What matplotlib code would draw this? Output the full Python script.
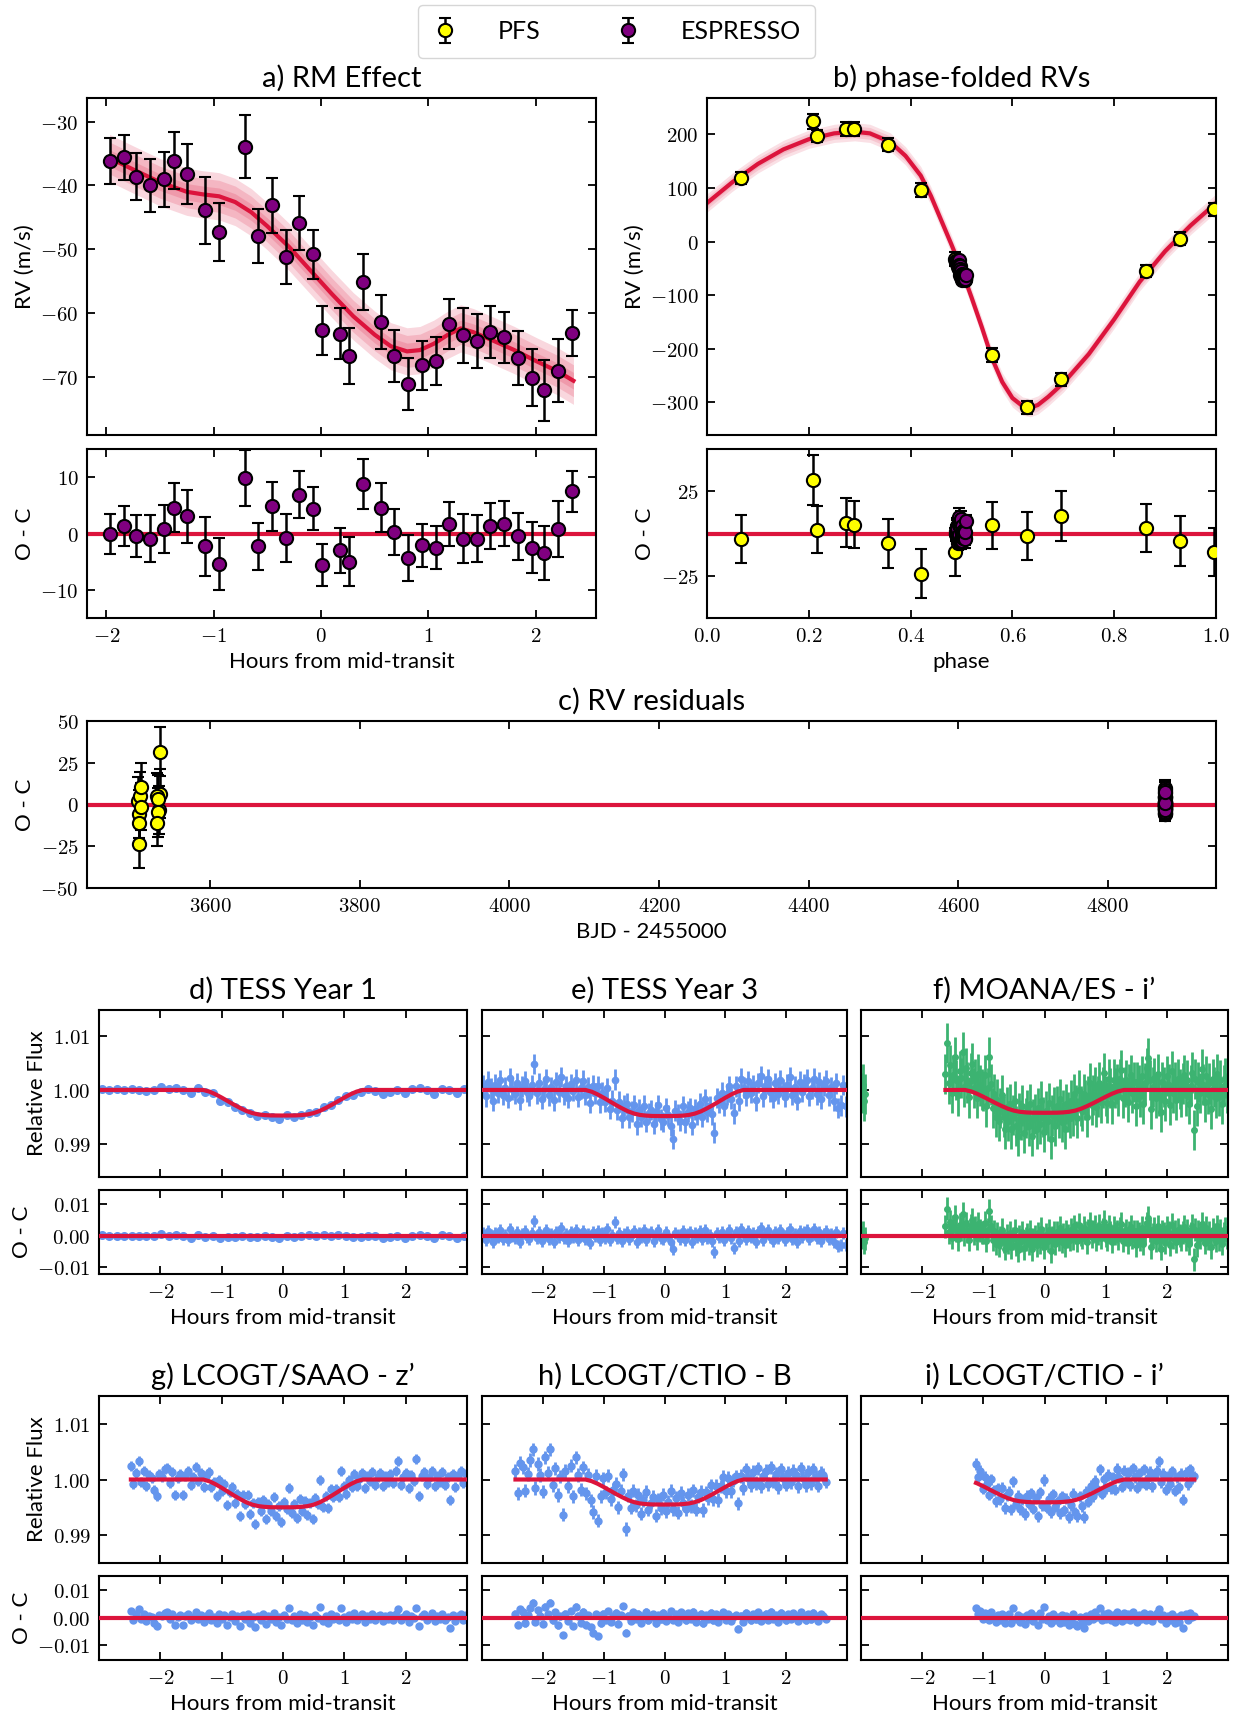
import numpy as np
import matplotlib
matplotlib.use('Agg')
import matplotlib.pyplot as plt
from matplotlib.ticker import FuncFormatter

plt.rcParams['font.family'] = ['Lato', 'DejaVu Sans']
plt.rcParams['mathtext.fontset'] = 'cm'

# ---------------- ESPRESSO RM sequence (hours from mid-transit)
rm_hours = [-1.97, -1.84, -1.72, -1.59, -1.46, -1.37, -1.25, -1.08, -0.95, -0.71, -0.59, -0.46,
            -0.33, -0.21, -0.08, 0.01, 0.18, 0.26, 0.39, 0.56, 0.68, 0.81, 0.94, 1.07, 1.19,
            1.32, 1.45, 1.57, 1.70, 1.83, 1.96, 2.08, 2.21, 2.34]
rm_rv = [-36.1, -35.6, -38.6, -40.0, -39.0, -36.1, -38.2, -43.9, -47.3, -33.9, -47.9, -43.1,
         -51.2, -45.9, -50.8, -62.7, -63.2, -66.7, -55.1, -61.4, -66.7, -71.1, -68.2, -67.5,
         -61.7, -63.5, -64.4, -63.0, -63.8, -67.0, -70.1, -72.1, -69.0, -63.1]
rm_err = [3.6, 3.5, 3.7, 4.1, 4.3, 4.4, 4.7, 5.3, 4.6, 5.0, 4.2, 4.3, 4.2, 4.2, 3.8, 3.8, 4.0,
          4.4, 4.4, 4.3, 4.1, 4.1, 3.8, 3.8, 3.9, 4.3, 4.2, 4.1, 4.0, 4.2, 4.5, 4.8, 4.9, 3.6]
rm_res = [-0.1, 1.3, -0.5, -0.9, 0.8, 4.6, 3.1, -2.3, -5.4, 9.9, -2.3, 4.8, -0.8, 6.9, 4.4,
          -5.6, -3.0, -5.0, 8.8, 4.6, 0.2, -4.3, -2.1, -2.5, 1.7, -0.9, -0.9, 1.4, 1.7, -0.5,
          -2.5, -3.5, 0.8, 7.5]
# RM model curve
rm_mod_t = [-1.97, -1.75, -1.5, -1.25, -1.1, -0.95, -0.8, -0.65, -0.5, -0.3, -0.1, 0.1, 0.3,
            0.5, 0.65, 0.8, 0.92, 1.05, 1.18, 1.30, 1.42, 1.6, 1.8, 2.0, 2.2, 2.35]
rm_mod_v = [-35.7, -37.5, -39.5, -41.0, -41.4, -41.7, -42.6, -44.2, -46.4, -49.6, -53.3, -57.0,
            -60.5, -63.4, -65.2, -66.0, -65.8, -64.8, -63.4, -62.4, -63.0, -64.3, -65.8, -67.5,
            -69.1, -70.6]
rm_band = [1.3, 2.5, 3.7]

# ---------------- PFS radial velocities
pfs_phase = [0.067, 0.208, 0.217, 0.273, 0.288, 0.356, 0.421, 0.488, 0.559, 0.628, 0.696,
             0.863, 0.929, 0.996]
pfs_rv = [119, 225, 197, 211, 210, 181, 97, -32, -211, -309, -257, -55, 5, 60]
pfs_err = [11.5, 14, 12, 13, 13, 12, 13, 13, 13, 12, 12, 12, 12, 12]
pfs_res = [-3.3, 31.7, 2.2, 6.5, 5.3, -5.9, -23.8, -11.0, 4.9, -1.4, 10.4, 3.3, -4.7, -11.0]
pfs_res_err = [14.3, 14.8, 14.0, 14.5, 14.0, 14.3, 14.4, 14.0, 14.0, 14.0, 14.6, 14.2, 14.8, 14.0]
pfs_bjd = [3531, 3532, 3503, 3532, 3506, 3505, 3505, 3505, 3529, 3507, 3507, 3530, 3530, 3529]
esp_bjd0 = 4876.6
esp_phase0 = 0.4975
period_days = 9.3
# Keplerian model
kep_phase = [0.0, 0.05, 0.1, 0.15, 0.2, 0.25, 0.29, 0.32, 0.36, 0.39, 0.42, 0.44, 0.46, 0.48,
             0.50, 0.52, 0.54, 0.56, 0.58, 0.60, 0.62, 0.635, 0.65, 0.67, 0.70, 0.75, 0.80,
             0.85, 0.90, 0.95, 1.0]
kep_rv = [72, 111, 145, 172, 191, 202, 205, 202, 186, 160, 123, 85, 40, -5, -52, -105, -160,
          -218, -262, -292, -307, -310, -305, -290, -264, -210, -145, -75, -18, 30, 72]
kep_band = [6, 11, 17]

# ---------------- transit model profile (normalised depth vs |hours|)
tr_knot_t = [0.0, 0.2, 0.3, 0.4, 0.5, 0.6, 0.7, 0.8, 0.9, 1.0, 1.1, 1.2, 1.3, 3.0]
tr_knot_s = [1.0, 0.996, 0.983, 0.957, 0.904, 0.819, 0.702, 0.574, 0.436, 0.298, 0.170,
             0.064, 0.0, 0.0]

# ---------------- photometry: time grids and residuals (units of 1e-4)
d_t = np.linspace(-2.95, 2.95, 50)
d_res = [2, 0, 1, 0, 1, 0, -1, 0, 5, 1, 4, 0, -6, 3, -2, 0, -8, -2, -3, -1, -2, -4, 0, -3, -6,
         1, -2, 0, 2, 1, 3, 0, 2, 1, -3, -2, 1, -1, -8, -4, 0, -6, 1, 3, 0, -7, 2, 0, -5, 1]

e_t = np.linspace(-2.98, 2.98, 150)
e_res = [8, -12, 15, 3, -20, 10, -5, 18, -9, 4, -14, 22, 1, -7, 12, -18, 6, 16, -3, -11,
         9, 48, -6, 13, -16, 2, 20, -10, 5, -19, 14, -4, 24, -8, 7, -15, 11, -2, 19, -13,
         3, 17, -9, 6, -21, 12, 0, 15, -12, 8, -6, 21, -14, 4, 45, -8, 10, -17, 7, 13,
         -10, 2, 16, -19, 9, -3, 18, -12, 5, 11, -15, 7, 20, -6, -11, 14, 1, -18, -42, 10,
         3, -9, 17, -13, 6, 12, -20, 8, -4, 15, -11, 19, -7, 2, -16, -52, 9, -2, 13, -14,
         5, 18, -8, -37, 11, -17, 22, 4, -10, 16, -5, 9, -19, 13, 25, -12, 7, 20, -3, -15,
         12, -7, 18, 2, -13, 10, 23, -9, 6, -18, 15, -4, 11, 19, -11, 3, 21, -8, 14, -16,
         7, 17, -10, 5, -20, 12, -33, -28, 9, -30]

f_t_early = [-2.99, -2.97, -2.95, -2.93]
f_res_early = [-5, 10, -20, -8]
f_t = np.linspace(-1.62, 2.98, 180)
f_res = [30, 87, 12, 45, -5, 28, 60, 18, -10, 35, 22, 70, 5, 40, 15, -12, 33, 52, 8, 25,
         -8, 38, 18, 12, 10, 42, -15, 20, 79, 30, -12, 15, -25, 8, -30, -5, 20, -18, -40, 2,
         -22, 10, -35, -8, 18, -28, -45, -3, -15, 12, -38, -10, 5, -25, 15, -42, -12, -2, -30, 8,
         -20, 22, -8, -35, 3, -15, 18, -48, -5, 10, -25, 12, -10, 25, -18, 5, -30, 15, 0, -12,
         20, -8, 30, 10, -15, 35, 5, -5, 25, 12, -20, 18, 40, -2, 15, 28, -10, 8, 32, -6,
         20, 45, 2, -12, 30, 12, -18, 25, 8, 15, -8, 22, 38, -15, 5, 18, -22, 10, 28, -5,
         15, -30, 15, 8, -12, 25, -25, 12, 40, 58, 18, -35, 5, 22, -15, 30, -10, -40, 15, 6,
         -20, 25, 10, -28, 35, -5, 15, -18, 20, 2, -12, 12, 28, -10, 18, -25, 8, 32, -74, 20,
         -30, 15, -5, 38, 10, -22, 25, -8, 12, -35, 20, 5, -15, 30, -10, 18, -25, 8, 22, -5]

g_t = np.linspace(-2.48, 2.98, 130)
g_res = [25, -8, 12, 33, -5, 15, -12, 8, 3, -18, -30, 10, 5, 18, 20, -6, 14, -28, 2, 9,
         -28, 6, 15, -10, 4, 22, -3, 11, -14, 7, 16, -8, 3, -20, 12, -5, 9, -25, 1, 14,
         -12, 6, -30, 10, -4, 15, -18, 3, -34, 8, -9, 12, -22, 5, -6, 18, -15, 2, -26, 10,
         -3, 34, -10, 6, -20, 14, -7, 9, -16, 4, -25, 11, -2, 39, -12, 5, -18, 13, -4, 8,
         -10, 34, 3, -14, 9, -6, 16, -8, 2, 12, -15, 7, -3, 14, -9, 5, 11, -12, 6, -4,
         10, -7, 15, 33, -10, 4, 12, -16, 8, -2, 36, -30, 6, 13, -8, 3, 16, -11, 7, -5,
         14, -9, 4, -36, 10, -13, 6, 15, -7, 9]

h_t = np.linspace(-2.45, 2.65, 125)
h_res = [15, -25, 30, 22, -20, 10, 35, 54, -15, 28, 8, -22, 40, 12, 54, -10, 20, -28, 5, -63,
         15, -12, 25, -30, 40, 8, -18, 22, -25, 10, -35, -54, 12, -66, -20, 15, -8, 25, -15, 5,
         18, -22, 10, 42, -54, 8, -12, 20, -5, 15, -18, 6, 22, -10, 3, 14, -20, 9, -6, 18,
         -12, 5, 25, -8, 12, -15, 20, 2, -10, 16, -5, 22, -14, 8, 15, -20, 10, -3, 18, -9,
         12, -16, 6, 20, -8, 14, -12, 4, 10, -40, 8, -15, 18, 3, -10, 14, -6, 20, -12, 7,
         15, -8, 22, -4, 10, -14, 18, 2, -9, 12, -5, 16, 8, -12, 20, 3, -10, 14, -6, 18,
         5, -11, 12, 8, -4]

i_t = np.linspace(-1.12, 2.45, 100)
i_res = [34, 12, 25, -5, 18, 8, -10, 20, 2, -15, 10, -8, 15, -20, 5, 12, -18, 34, -6, 9,
         -14, 4, -22, 11, -3, 16, -12, 7, -25, 18, -5, 40, -10, 6, -18, 14, -8, 2, -20, 10,
         -15, 5, -28, -8, 12, -22, -30, 4, -15, -36, 8, -12, 15, -6, 20, 3, 36, -10, 14, -4,
         18, -8, 10, -14, 22, 5, -12, 16, -3, 12, -10, 20, 4, -15, 11, -6, 18, -9, 2, 14,
         -12, 8, 16, 33, -5, 10, -18, 6, -8, 15, -20, 4, -14, 10, -36, 12, -8, 18, 2, 6]

# ---------------- styling
RED = '#dc143c'
BLUE = '#6495ed'
GREEN = '#3cb371'
TITLE = 21
LABEL = 16
W, H = 1233, 1712
fig = plt.figure(figsize=(W / 100, H / 100), dpi=100)


def box(l, t, r, b):
    return fig.add_axes([l / W, 1 - b / H, (r - l) / W, (b - t) / H])


def fmt(dec):
    return FuncFormatter(lambda v, p: '$%.*f$' % (dec, v))


def style(ax):
    ax.tick_params(direction='in', top=True, right=True, length=6, width=1.3, labelsize=15, pad=6)
    for s in ax.spines.values():
        s.set_linewidth(1.5)


rv_kw = dict(fmt='o', ms=9.5, mec='black', mew=1.5, ecolor='black', elinewidth=1.8,
             capsize=4, capthick=1.8, zorder=3)

# ---------------- a) RM effect
axa = box(87, 98, 596, 435)
axar = box(87, 449, 596, 618)
mt = np.array(rm_mod_t)
mv = np.array(rm_mod_v)
for w in rm_band[::-1]:
    axa.fill_between(mt, mv - w, mv + w, color=RED, alpha=0.17, lw=0, zorder=1)
axa.plot(mt, mv, color=RED, lw=3, zorder=2)
axa.errorbar(rm_hours, rm_rv, yerr=rm_err, mfc='purple', **rv_kw)
axar.axhline(0, color=RED, lw=3, zorder=2)
axar.errorbar(rm_hours, rm_res, yerr=rm_err, mfc='purple', **rv_kw)
for ax in (axa, axar):
    ax.set_xlim(-2.18, 2.56)
    ax.set_xticks([-2, -1, 0, 1, 2])
    style(ax)
axa.set_ylim(-79.1, -26.3)
axa.set_yticks([-70, -60, -50, -40, -30])
axa.yaxis.set_major_formatter(fmt(0))
axa.tick_params(labelbottom=False)
axar.set_ylim(-15, 15)
axar.set_yticks([-10, 0, 10])
axar.yaxis.set_major_formatter(fmt(0))
axar.xaxis.set_major_formatter(fmt(0))
axa.set_title('a) RM Effect', fontsize=TITLE, pad=8)
axa.set_ylabel('RV (m/s)', fontsize=LABEL)
axar.set_ylabel('O - C', fontsize=LABEL)
axar.set_xlabel('Hours from mid-transit', fontsize=LABEL)

# ---------------- b) phase-folded RVs
esp_phase = esp_phase0 + np.array(rm_hours) / (24 * period_days)
axb = box(707, 98, 1216, 435)
axbr = box(707, 449, 1216, 618)
kp = np.array(kep_phase)
kv = np.array(kep_rv)
for w in kep_band[::-1]:
    axb.fill_between(kp, kv - w, kv + w, color=RED, alpha=0.13, lw=0, zorder=1)
axb.plot(kp, kv, color=RED, lw=3, zorder=2)
h_pfs = axb.errorbar(pfs_phase, pfs_rv, yerr=pfs_err, mfc='yellow', **rv_kw)
h_esp = axb.errorbar(esp_phase, rm_rv, yerr=rm_err, mfc='purple', **rv_kw)
axbr.axhline(0, color=RED, lw=3, zorder=2)
axbr.errorbar(pfs_phase, pfs_res, yerr=pfs_res_err, mfc='yellow', **rv_kw)
axbr.errorbar(esp_phase, rm_res, yerr=rm_err, mfc='purple', **rv_kw)
for ax in (axb, axbr):
    ax.set_xlim(0, 1)
    ax.set_xticks([0, 0.2, 0.4, 0.6, 0.8, 1.0])
    style(ax)
axb.set_ylim(-361, 268)
axb.set_yticks([-300, -200, -100, 0, 100, 200])
axb.yaxis.set_major_formatter(fmt(0))
axb.tick_params(labelbottom=False)
axbr.set_ylim(-50, 50)
axbr.set_yticks([-25, 25])
axbr.yaxis.set_major_formatter(fmt(0))
axbr.xaxis.set_major_formatter(fmt(1))
axb.set_title('b) phase-folded RVs', fontsize=TITLE, pad=8)
axb.set_ylabel('RV (m/s)', fontsize=LABEL)
axbr.set_ylabel('O - C', fontsize=LABEL)
axbr.set_xlabel('phase', fontsize=LABEL)

# ---------------- c) RV residuals vs time
axc = box(87, 721, 1216, 888)
axc.axhline(0, color=RED, lw=3, zorder=2)
axc.errorbar(pfs_bjd, pfs_res, yerr=pfs_res_err, mfc='yellow', **rv_kw)
axc.errorbar(esp_bjd0 + np.array(rm_hours) / 24, rm_res, yerr=rm_err, mfc='purple', **rv_kw)
axc.set_xlim(3435, 4945)
axc.set_xticks(np.arange(3600, 4801, 200))
axc.set_ylim(-50, 50)
axc.set_yticks([-50, -25, 0, 25, 50])
axc.xaxis.set_major_formatter(fmt(0))
axc.yaxis.set_major_formatter(fmt(0))
style(axc)
axc.set_title('c) RV residuals', fontsize=TITLE, pad=8)
axc.set_ylabel('O - C', fontsize=LABEL)
axc.set_xlabel('BJD - 2455000', fontsize=LABEL)

# ---------------- light curves
knot_full = np.concatenate((-np.array(tr_knot_t[::-1]), np.array(tr_knot_t[1:])))


def transit(t, depth):
    return 1 - depth * np.interp(np.abs(t), tr_knot_t, tr_knot_s)


def lc_panel(l, r, top, title, t, res, err, depth, color, ms, first, ylim, rlim):
    axt = box(l, top, r, top + 167)
    axr = box(l, top + 180, r, top + 264)
    t = np.asarray(t, dtype=float)
    res = np.asarray(res, dtype=float) * 1e-4
    flux = transit(t, depth) + res
    axt.errorbar(t, flux, yerr=err, fmt='o', color=color, ms=ms, elinewidth=2, capsize=0, zorder=2)
    axr.errorbar(t, res, yerr=err, fmt='o', color=color, ms=ms, elinewidth=2, capsize=0, zorder=2)
    inside = (knot_full > t.min()) & (knot_full < t.max())
    mx = np.concatenate(([t.min()], knot_full[inside], [t.max()]))
    axt.plot(mx, transit(mx, depth), color=RED, lw=3, zorder=3)
    axr.axhline(0, color=RED, lw=3, zorder=3)
    for ax in (axt, axr):
        ax.set_xlim(-3, 3)
        ax.set_xticks([-2, -1, 0, 1, 2])
        style(ax)
    axt.set_ylim(*ylim)
    axt.set_yticks([0.99, 1.00, 1.01])
    axr.set_ylim(*rlim)
    axr.set_yticks([-0.01, 0.0, 0.01])
    axt.tick_params(labelbottom=False)
    axr.xaxis.set_major_formatter(fmt(0))
    if first:
        axt.yaxis.set_major_formatter(fmt(2))
        axr.yaxis.set_major_formatter(fmt(2))
        axt.set_ylabel('Relative Flux', fontsize=LABEL)
        axr.set_ylabel('O - C', fontsize=LABEL)
    else:
        axt.tick_params(labelleft=False)
        axr.tick_params(labelleft=False)
    axt.set_title(title, fontsize=TITLE, pad=8)
    axr.set_xlabel('Hours from mid-transit', fontsize=LABEL)
    return axt, axr


row1 = dict(top=1010, ylim=(0.984, 1.0147), rlim=(-0.0121, 0.0146))
row2 = dict(top=1396, ylim=(0.985, 1.015), rlim=(-0.0153, 0.0151))
lc_panel(99, 467, title='d) TESS Year 1', t=d_t, res=d_res, err=None, depth=0.0047,
         color=BLUE, ms=5.5, first=True, **row1)
lc_panel(482, 847, title='e) TESS Year 3', t=e_t, res=e_res, err=0.0019, depth=0.0048,
         color=BLUE, ms=4.5, first=False, **row1)
ft, fr = lc_panel(861, 1228, title='f) MOANA/ES - i\u2019', t=f_t, res=f_res, err=0.0037,
                  depth=0.0042, color=GREEN, ms=4, first=False, **row1)
fe_t = np.array(f_t_early)
fe_r = np.array(f_res_early) * 1e-4
ft.errorbar(fe_t, transit(fe_t, 0.0042) + fe_r, yerr=0.0037, fmt='o', color=GREEN, ms=4,
            elinewidth=2, capsize=0, zorder=2)
fr.errorbar(fe_t, fe_r, yerr=0.0037, fmt='o', color=GREEN, ms=4, elinewidth=2, capsize=0, zorder=2)
lc_panel(99, 467, title='g) LCOGT/SAAO - z\u2019', t=g_t, res=g_res, err=0.0009, depth=0.0050,
         color=BLUE, ms=5, first=True, **row2)
lc_panel(482, 847, title='h) LCOGT/CTIO - B', t=h_t, res=h_res, err=0.0012, depth=0.0045,
         color=BLUE, ms=5, first=False, **row2)
lc_panel(861, 1228, title='i) LCOGT/CTIO - i\u2019', t=i_t, res=i_res, err=0.001, depth=0.0041,
         color=BLUE, ms=5, first=False, **row2)

# ---------------- legend
fig.legend([h_pfs, h_esp], ['PFS', 'ESPRESSO'], loc='upper center', bbox_to_anchor=(0.5, 0.997),
           borderaxespad=0, ncol=2, fontsize=18, frameon=True, fancybox=True, edgecolor='#cccccc',
           handlelength=1.0, handletextpad=1.6, columnspacing=3.0, borderpad=0.6)

fig.savefig('out.png', dpi=100)
